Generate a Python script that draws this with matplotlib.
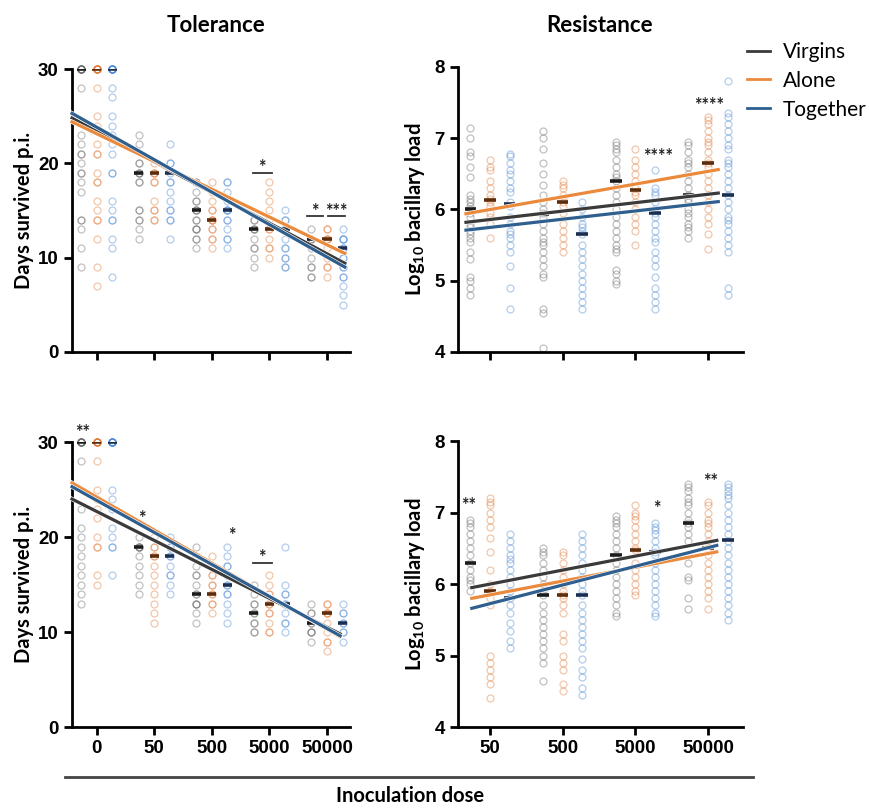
import numpy as np
import matplotlib.pyplot as plt
import matplotlib.patheffects as pe
from matplotlib.lines import Line2D

plt.rcParams['font.family'] = ['Lato', 'DejaVu Sans']
plt.rcParams['mathtext.fontset'] = 'custom'
plt.rcParams['mathtext.rm'] = 'Lato:bold'
plt.rcParams['mathtext.default'] = 'rm'

groups = ['Virgins', 'Alone', 'Together']
dot_colors = ['#6b6b6b', '#e07b39', '#4a88d4']
line_colors = ['#3a3a3a', '#ea8a3c', '#2f5f8e']
median_colors = ['#1c1c1c', '#5c2c0c', '#1b2f52']

tol_doses = ['0', '50', '500', '5000', '50000']
res_doses = ['50', '500', '5000', '50000']

# ---- Tolerance, top row (days survived p.i.) ----
tol1_virgins = [[30] * 8 + [28, 23, 22, 21, 21, 20, 19, 19, 18, 17, 14, 14, 13, 11, 9],
                [23, 22, 20, 20, 19, 19, 19, 18, 18, 15, 15, 14, 14, 13, 12],
                [18, 18, 17, 16, 16, 15, 15, 15, 14, 14, 13, 13, 13, 12, 12, 11],
                [14, 14, 13, 13, 13, 12, 11, 11, 10, 9],
                [13, 12, 12, 12, 11, 10, 9, 9, 8, 8]]
tol1_alone = [[30] * 8 + [28, 25, 24, 22, 21, 21, 19, 18, 18, 16, 15, 14, 14, 12, 9, 7],
              [20, 19, 19, 19, 18, 18, 16, 15, 15, 14, 14],
              [18, 17, 16, 15, 15, 14, 14, 14, 13, 13, 12, 12, 11],
              [18, 17, 16, 15, 14, 13, 13, 12, 11, 11, 10],
              [13, 13, 12, 12, 12, 11, 10, 9, 9, 8]]
tol1_together = [[30] * 8 + [28, 27, 25, 24, 23, 22, 21, 19, 19, 16, 15, 14, 14, 12, 11, 8],
                 [22, 20, 20, 19, 18, 18, 17, 16, 15, 15, 14, 14, 12],
                 [18, 18, 17, 16, 15, 15, 15, 14, 14, 13, 12, 12, 11],
                 [15, 14, 14, 13, 13, 12, 11, 11, 10, 10, 9, 9],
                 [13, 12, 12, 12, 11, 11, 10, 10, 9, 9, 8, 8, 7, 6, 5]]
tol1_medians = [[30, 19, 15, 13, 12], [30, 19, 14, 13, 12], [30, 19, 15, 13, 11]]
tol1_fit_x = [-0.43, 4.31]
tol1_fit = [[24.8, 9.4], [24.4, 10.45], [25.3, 9.0]]
tol1_stars = [(2.71, 3.04, 19.0, '*'), (3.65, 3.93, 14.4, '*'), (4.02, 4.31, 14.4, '***')]

# ---- Tolerance, bottom row ----
tol2_virgins = [[30] * 8 + [28, 23, 21, 20, 19, 18, 17, 16, 15, 14, 13],
                [20, 19, 19, 19, 19, 18, 17, 16, 15, 14],
                [19, 18, 17, 16, 16, 15, 14, 14, 13, 13, 13, 12, 11],
                [15, 14, 13, 13, 12, 12, 11, 11, 10, 10],
                [13, 12, 12, 11, 11, 10, 10, 10, 9]]
tol2_alone = [[30] * 8 + [28, 25, 24, 23, 22, 20, 19, 19, 16, 15],
              [20, 19, 19, 18, 18, 17, 16, 15, 14, 13, 12, 11],
              [18, 17, 16, 16, 15, 15, 14, 14, 13, 13, 12],
              [16, 15, 14, 14, 13, 13, 12, 12, 11, 10, 10],
              [13, 13, 12, 12, 12, 11, 10, 9, 9, 8]]
tol2_together = [[30] * 8 + [25, 24, 23, 21, 20, 19, 19, 16],
                 [20, 19, 19, 18, 18, 17, 16, 16, 15, 14],
                 [19, 18, 17, 17, 16, 16, 15, 15, 14, 14, 13, 12, 11],
                 [19, 15, 14, 14, 13, 13, 12, 11, 11, 10],
                 [13, 12, 12, 11, 11, 10, 10, 9]]
tol2_medians = [[30, 19, 14, 12, 11], [30, 18, 14, 13, 12], [30, 18, 15, 13, 11]]
tol2_fit_x = [-0.43, 4.23]
tol2_fit = [[24.0, 9.8], [25.7, 9.5], [25.3, 9.6]]
tol2_stars = [(-0.24, None, 31.0, '**'), (0.78, None, 22.0, '*'),
              (2.35, None, 20.2, '*'), (2.71, 3.04, 17.3, '*')]

# ---- Resistance, top row (log10 bacillary load) ----
res1_virgins = [[7.15, 7.0, 6.8, 6.75, 6.6, 6.45, 6.2, 6.15, 6.1, 6.05, 6.0, 5.95, 5.9, 5.8,
                 5.75, 5.7, 5.65, 5.6, 5.55, 5.4, 5.3, 5.05, 5.0, 4.9, 4.8],
                [7.1, 7.0, 6.85, 6.65, 6.5, 6.35, 6.2, 6.1, 6.0, 5.95, 5.9, 5.8, 5.7, 5.6,
                 5.55, 5.5, 5.4, 5.3, 5.2, 5.1, 5.05, 4.6, 4.55, 4.05],
                [6.95, 6.9, 6.85, 6.8, 6.7, 6.6, 6.5, 6.45, 6.4, 6.3, 6.2, 6.1, 6.0, 5.9,
                 5.8, 5.7, 5.6, 5.5, 5.45, 5.4, 5.15, 5.1, 5.0, 4.95],
                [6.95, 6.9, 6.8, 6.7, 6.65, 6.6, 6.5, 6.4, 6.3, 6.2, 6.15, 6.1, 6.0, 5.95,
                 5.9, 5.8, 5.75, 5.7, 5.6]]
res1_alone = [[6.7, 6.6, 6.55, 6.4, 6.3, 6.2, 6.15, 6.1, 6.05, 5.95, 5.9, 5.8, 5.6],
              [6.4, 6.35, 6.3, 6.2, 6.15, 6.1, 6.05, 5.95, 5.8, 5.7, 5.6, 5.5, 5.4],
              [6.85, 6.7, 6.6, 6.5, 6.4, 6.3, 6.25, 6.2, 6.1, 6.0, 5.9, 5.8, 5.7, 5.5],
              [7.3, 7.25, 7.2, 7.1, 7.0, 6.95, 6.9, 6.8, 6.7, 6.65, 6.6, 6.5, 6.4, 6.3,
               6.2, 6.1, 6.0, 5.9, 5.8, 5.65, 5.45]]
res1_together = [[6.78, 6.75, 6.65, 6.55, 6.5, 6.4, 6.3, 6.25, 6.1, 6.05, 5.9, 5.8, 5.7,
                  5.65, 5.6, 5.5, 5.4, 5.2, 4.9, 4.6],
                 [6.1, 6.0, 5.9, 5.8, 5.75, 5.7, 5.65, 5.5, 5.4, 5.3, 5.2, 5.1, 5.0, 4.9,
                  4.8, 4.7, 4.6],
                 [6.55, 6.3, 6.25, 6.2, 6.1, 6.0, 5.95, 5.9, 5.8, 5.7, 5.6, 5.55, 5.4, 5.3,
                  5.2, 5.05, 4.9, 4.8, 4.7, 4.6],
                 [7.8, 7.35, 7.3, 7.2, 7.1, 7.0, 6.9, 6.85, 6.7, 6.65, 6.6, 6.5, 6.4, 6.3,
                  6.2, 6.1, 6.0, 5.9, 5.85, 5.8, 5.7, 5.6, 5.5, 5.4, 4.9, 4.8]]
res1_medians = [[6.0, 5.93, 6.4, 6.2], [6.13, 6.1, 6.27, 6.65], [6.07, 5.65, 5.95, 6.2]]
res1_fit_x = [-0.33, 3.14]
res1_fit = [[5.82, 6.23], [5.94, 6.56], [5.71, 6.11]]
res1_stars = [(2.31, None, 6.74, '****'), (3.01, None, 7.46, '****')]

# ---- Resistance, bottom row ----
res2_virgins = [[6.9, 6.85, 6.8, 6.7, 6.6, 6.5, 6.4, 6.3, 6.2, 6.1, 6.05, 6.0, 5.9],
                [6.5, 6.45, 6.4, 6.3, 6.2, 6.1, 6.0, 5.9, 5.85, 5.7, 5.6, 5.5, 5.4, 5.3,
                 5.2, 5.1, 5.0, 4.9, 4.65],
                [6.95, 6.9, 6.85, 6.8, 6.7, 6.6, 6.5, 6.4, 6.3, 6.2, 6.1, 6.0, 5.9, 5.8,
                 5.7, 5.6, 5.55],
                [7.4, 7.35, 7.3, 7.2, 7.15, 7.1, 7.0, 6.9, 6.85, 6.8, 6.7, 6.6, 6.4, 6.3,
                 6.1, 6.05, 5.8, 5.65]]
res2_alone = [[7.2, 7.15, 7.1, 7.0, 6.9, 6.8, 6.65, 6.45, 6.2, 6.0, 5.9, 5.8, 5.7, 5.0,
               4.9, 4.8, 4.7, 4.6, 4.4],
              [6.45, 6.4, 6.3, 6.2, 6.1, 6.0, 5.9, 5.85, 5.8, 5.7, 5.6, 5.3, 5.2, 5.0,
               4.9, 4.8, 4.6, 4.5],
              [7.1, 7.0, 6.95, 6.9, 6.8, 6.7, 6.6, 6.5, 6.48, 6.3, 6.2, 6.1, 6.0, 5.9, 5.85],
              [7.15, 7.1, 7.0, 6.9, 6.85, 6.8, 6.7, 6.6, 6.5, 6.4, 6.3, 6.2, 6.1, 6.0,
               5.9, 5.8, 5.65]]
res2_together = [[6.7, 6.6, 6.5, 6.4, 6.35, 6.3, 6.2, 6.1, 6.0, 5.9, 5.8, 5.7, 5.6, 5.45,
                  5.35, 5.2, 5.1],
                 [6.7, 6.6, 6.5, 6.4, 6.3, 6.2, 6.1, 6.0, 5.9, 5.85, 5.7, 5.6, 5.5, 5.4,
                  5.3, 5.2, 5.1, 4.95, 4.8, 4.7, 4.55, 4.45],
                 [6.85, 6.8, 6.75, 6.7, 6.6, 6.5, 6.45, 6.4, 6.3, 6.2, 6.1, 6.0, 5.9, 5.8,
                  5.7, 5.6, 5.55],
                 [7.4, 7.35, 7.3, 7.25, 7.2, 7.1, 7.0, 6.9, 6.8, 6.7, 6.6, 6.5, 6.4, 6.3,
                  6.2, 6.1, 6.0, 5.9, 5.8, 5.7, 5.6, 5.5]]
res2_medians = [[6.3, 5.85, 6.4, 6.85], [5.9, 5.85, 6.48, 6.5], [5.8, 5.85, 6.45, 6.62]]
res2_fit_x = [-0.25, 3.12]
res2_fit = [[5.95, 6.61], [5.8, 6.45], [5.66, 6.54]]
res2_stars = [(-0.3, None, 7.1, '**'), (2.3, None, 7.06, '*'), (3.03, None, 7.43, '**')]

offsets = [-0.27, 0.0, 0.27]


def draw_panel(ax, series, medians, fit_x, fit, stars, doses, ylim, yticks, xlim, show_labels):
    for g in range(3):
        for i, vals in enumerate(series[g]):
            x = np.full(len(vals), i + offsets[g])
            ax.plot(x, vals, 'o', ms=5.0, mfc='none', mec=dot_colors[g], mew=0.9,
                    alpha=0.42, clip_on=False, zorder=2)
            ax.plot([i + offsets[g] - 0.08, i + offsets[g] + 0.08], [medians[g][i]] * 2,
                    color=median_colors[g], lw=2.6, solid_capstyle='butt', zorder=4)
    for g in range(3):
        ax.plot(fit_x, fit[g], color=line_colors[g], lw=2.3, zorder=5, clip_on=False,
                path_effects=[pe.Stroke(linewidth=3.2, foreground='white'), pe.Normal()])
    for x0, x1, y, txt in stars:
        if x1 is None:
            ax.text(x0, y, txt, ha='center', va='center', fontsize=13, fontweight='bold',
                    color='#222222', zorder=6)
        else:
            ax.plot([x0, x1], [y, y], color='#333333', lw=1.3, zorder=6)
            span = ylim[1] - ylim[0]
            ax.text((x0 + x1) / 2, y - span * 0.012, txt, ha='center', va='bottom',
                    fontsize=13, fontweight='bold', color='#222222', zorder=6)
    ax.set_xlim(xlim)
    ax.set_ylim(ylim)
    ax.set_yticks(yticks)
    ax.set_xticks(range(len(doses)))
    if show_labels:
        ax.set_xticklabels(doses)
    else:
        ax.set_xticklabels([])
    for s in ['top', 'right']:
        ax.spines[s].set_visible(False)
    for s in ['left', 'bottom']:
        ax.spines[s].set_linewidth(2.0)
    ax.tick_params(width=2.0, length=6, labelsize=13.5)
    for lab in ax.get_xticklabels() + ax.get_yticklabels():
        lab.set_fontweight('bold')
        lab.set_family(['Liberation Sans', 'DejaVu Sans'])


fig = plt.figure(figsize=(8.7, 8.08), dpi=100)
ax1 = fig.add_axes([0.0828, 0.5644, 0.3195, 0.3502])
ax2 = fig.add_axes([0.5264, 0.5644, 0.3276, 0.3527])
ax3 = fig.add_axes([0.0828, 0.1002, 0.3195, 0.3527])
ax4 = fig.add_axes([0.5264, 0.1002, 0.3276, 0.3540])

draw_panel(ax1, [tol1_virgins, tol1_alone, tol1_together], tol1_medians, tol1_fit_x,
           tol1_fit, tol1_stars, tol_doses, (0, 30), [0, 10, 20, 30], (-0.43, 4.4), False)
draw_panel(ax2, [res1_virgins, res1_alone, res1_together], res1_medians, res1_fit_x,
           res1_fit, res1_stars, res_doses, (4, 8), [4, 5, 6, 7, 8], (-0.44, 3.48), False)
draw_panel(ax3, [tol2_virgins, tol2_alone, tol2_together], tol2_medians, tol2_fit_x,
           tol2_fit, tol2_stars, tol_doses, (0, 30), [0, 10, 20, 30], (-0.43, 4.4), True)
draw_panel(ax4, [res2_virgins, res2_alone, res2_together], res2_medians, res2_fit_x,
           res2_fit, res2_stars, res_doses, (4, 8), [4, 5, 6, 7, 8], (-0.44, 3.48), True)

for ax in [ax1, ax3]:
    ax.set_ylabel('Days survived p.i.', fontsize=14.5, fontweight='bold', labelpad=3)
for ax in [ax2, ax4]:
    ax.set_ylabel('Log$_{10}$ bacillary load', fontsize=14.5, fontweight='bold', labelpad=5)

fig.text(216 / 870, 1 - 25 / 808, 'Tolerance', ha='center', va='center',
         fontsize=16, fontweight='bold')
fig.text(600 / 870, 1 - 25 / 808, 'Resistance', ha='center', va='center',
         fontsize=16, fontweight='bold')

# legend
handles = [Line2D([0], [0], color=line_colors[g], lw=2.0) for g in range(3)]
fig.legend(handles, groups, loc='upper left', bbox_to_anchor=(0.859, 0.948),
           frameon=False, fontsize=15, handlelength=1.1, handletextpad=0.6,
           labelspacing=0.42, borderpad=0, borderaxespad=0)

# shared x label with rule
fig.add_artist(Line2D([65 / 870, 753 / 870], [1 - 777 / 808] * 2, color='#444444', lw=2))
fig.text(410 / 870, 1 - 796 / 808, 'Inoculation dose', ha='center', va='center',
         fontsize=14.5, fontweight='bold')

fig.savefig('out.png', dpi=100)
